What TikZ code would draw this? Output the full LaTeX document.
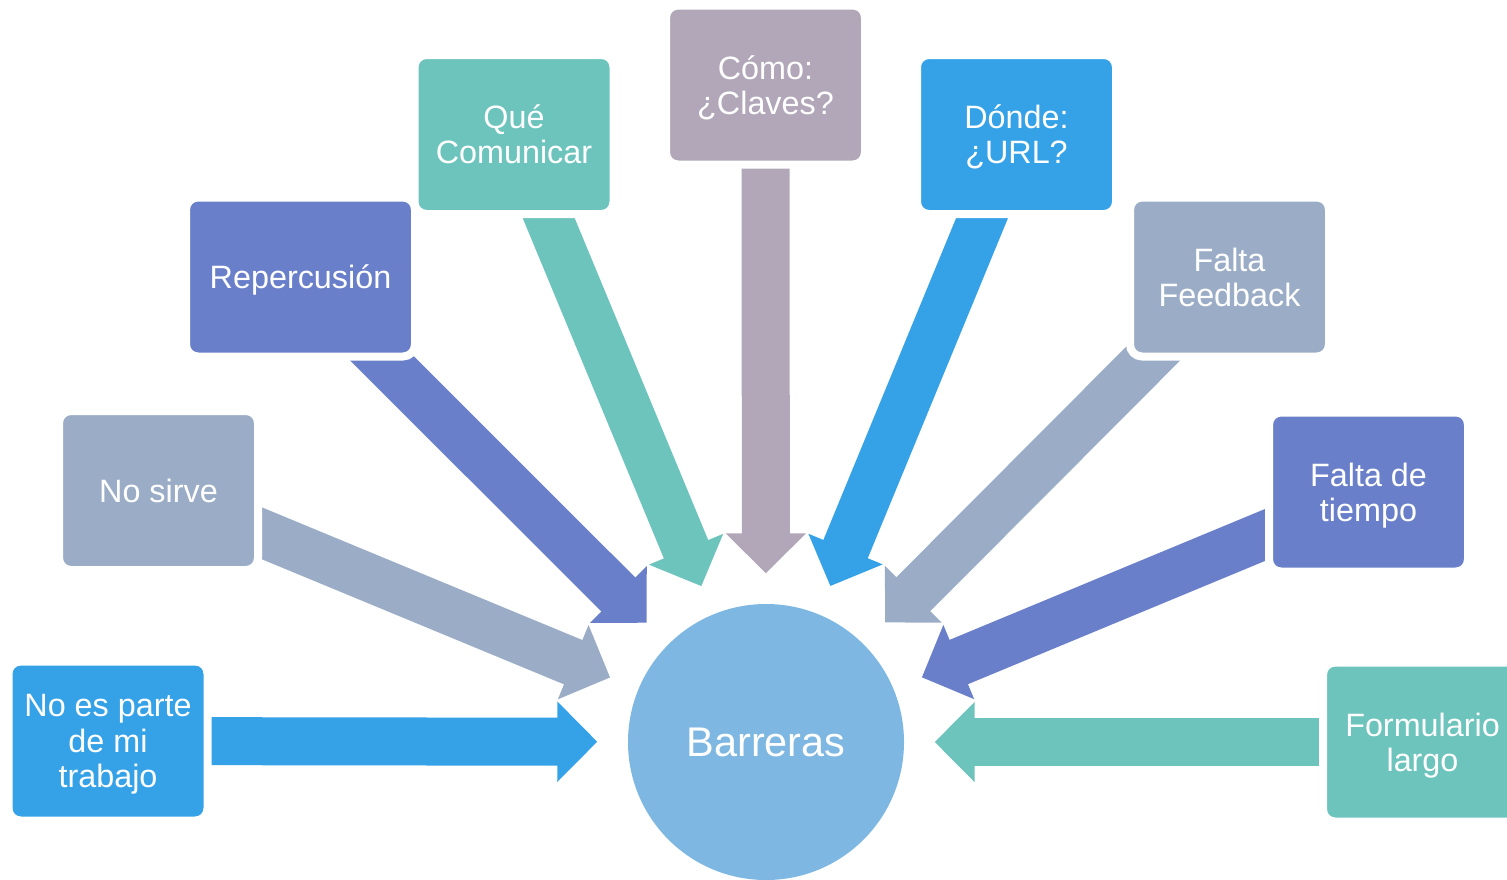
\documentclass[tikz,border=0pt]{standalone}
\usepackage{fontspec}
\setmainfont{Liberation Sans}
\usetikzlibrary{arrows.meta}
\definecolor{azul}{HTML}{35A2E8}
\definecolor{gris}{HTML}{9BADC6}
\definecolor{indigo}{HTML}{6A7FC9}
\definecolor{turquesa}{HTML}{6CC4BD}
\definecolor{malva}{HTML}{B1A7B9}
\definecolor{cielo}{HTML}{7DB7E2}
\pgfdeclarelayer{fondo}
\pgfsetlayers{fondo,main}

\begin{document}
\begin{tikzpicture}[
        caja/.style={fill=#1, draw=white, line width=0.08cm, text=white, rounded corners=0.12cm,
            minimum width=1.99cm, minimum height=1.59cm, align=center, inner sep=0pt,
            text depth=0pt, font=\fontsize{9.2}{10}\selectfont},
        flecha/.style={draw=#1, line width=0.48cm, shorten >=0.3cm,
            -{Triangle[length=0.4cm,width=0.78cm]}}
    ]
        \useasboundingbox (0,0) rectangle (15.07,8.79);
        % centro
        \node[circle, fill=cielo, text=white, minimum size=2.76cm, inner sep=0pt,
            font=\fontsize{11.8}{14}\selectfont] (bar) at (7.66,1.37) {Barreras};
        % cajas
        \node[caja=azul] (parte) at (1.08,1.38) {No es parte\\de mi\\trabajo};
        \node[caja=gris] (sirve) at (1.585,3.885) {No sirve};
        \node[caja=indigo, minimum width=2.29cm] (rep) at (3.005,6.02) {Repercusión};
        \node[caja=turquesa] (que) at (5.14,7.445) {Qué\\Comunicar};
        \node[caja=malva] (como) at (7.655,7.94) {Cómo:\\¿Claves?};
        \node[caja=azul] (donde) at (10.165,7.445) {Dónde:\\¿URL?};
        \node[caja=gris] (feed) at (12.295,6.02) {Falta\\Feedback};
        \node[caja=indigo] (tiempo) at (13.685,3.87) {Falta de\\tiempo};
        \node[caja=turquesa] (form) at (14.225,1.37) {Formulario\\largo};
        % flechas
        \begin{pgfonlayer}{fondo}
            \draw[flecha=azul] (parte.center) -- (bar);
            \draw[flecha=gris] (sirve.center) -- (bar);
            \draw[flecha=indigo] (rep.center) -- (bar);
            \draw[flecha=turquesa] (que.center) -- (bar);
            \draw[flecha=malva] (como.center) -- (bar);
            \draw[flecha=azul] (donde.center) -- (bar);
            \draw[flecha=gris] (feed.center) -- (bar);
            \draw[flecha=indigo] (tiempo.center) -- (bar);
            \draw[flecha=turquesa] (form.center) -- (bar);
        \end{pgfonlayer}
    \end{tikzpicture}
\end{document}
